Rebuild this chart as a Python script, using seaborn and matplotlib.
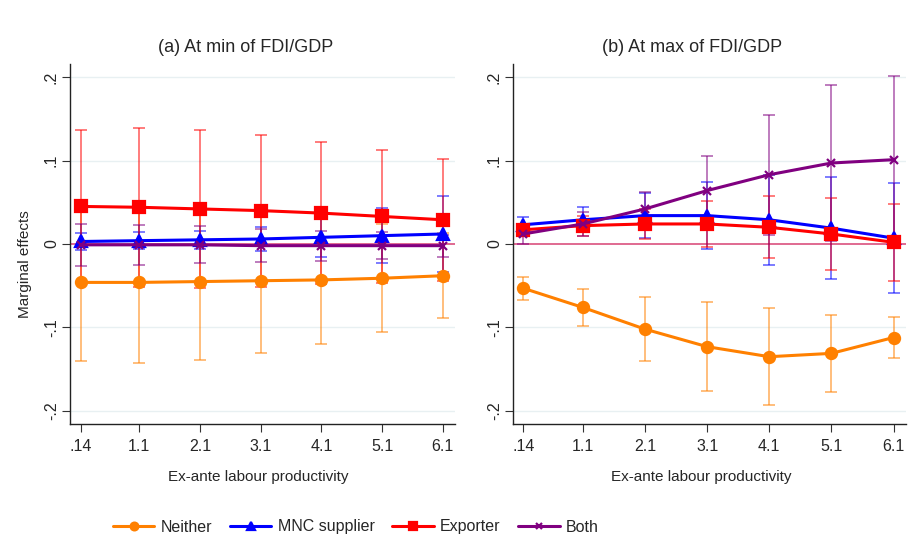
import numpy as np
import pandas as pd
import matplotlib
matplotlib.use("Agg")
import matplotlib.pyplot as plt
import seaborn as sns

# ---- data ----
x_vals = [0.14, 1.1, 2.1, 3.1, 4.1, 5.1, 6.1]
x_labels = [".14", "1.1", "2.1", "3.1", "4.1", "5.1", "6.1"]
groups = ["Neither", "MNC supplier", "Exporter", "Both"]

# panel (a): at min of FDI/GDP
a_neither = [-0.046, -0.046, -0.045, -0.044, -0.043, -0.041, -0.038]
a_neither_ci = [0.094, 0.096, 0.094, 0.087, 0.077, 0.065, 0.051]
a_mnc = [0.003, 0.004, 0.005, 0.006, 0.008, 0.010, 0.012]
a_mnc_ci = [0.010, 0.010, 0.011, 0.014, 0.023, 0.033, 0.046]
a_exp = [0.045, 0.044, 0.042, 0.040, 0.037, 0.033, 0.029]
a_exp_ci = [0.092, 0.095, 0.095, 0.091, 0.085, 0.080, 0.073]
a_both = [-0.001, -0.001, -0.001, -0.002, -0.002, -0.002, -0.002]
a_both_ci = [0.025, 0.024, 0.022, 0.020, 0.018, 0.016, 0.013]

# panel (b): at max of FDI/GDP
b_neither = [-0.053, -0.076, -0.102, -0.123, -0.135, -0.131, -0.112]
b_neither_ci = [0.014, 0.022, 0.038, 0.053, 0.058, 0.046, 0.024]
b_mnc = [0.023, 0.029, 0.034, 0.034, 0.029, 0.019, 0.007]
b_mnc_ci = [0.009, 0.015, 0.027, 0.040, 0.054, 0.061, 0.066]
b_exp = [0.017, 0.022, 0.024, 0.024, 0.020, 0.012, 0.002]
b_exp_ci = [0.006, 0.012, 0.018, 0.028, 0.037, 0.043, 0.046]
b_both = [0.012, 0.024, 0.042, 0.064, 0.083, 0.097, 0.101]
b_both_ci = [0.012, 0.014, 0.020, 0.041, 0.072, 0.094, 0.100]

y_ticks = [-0.2, -0.1, 0.0, 0.1, 0.2]
y_labels = ["-.2", "-.1", "0", ".1", ".2"]

colors = {"Neither": "#ff8000", "MNC supplier": "#0000ff",
          "Exporter": "#ff0000", "Both": "#800080"}
markers = {"Neither": "o", "MNC supplier": "^", "Exporter": "s", "Both": "x"}
msizes = {"Neither": 8, "MNC supplier": 8, "Exporter": 8, "Both": 6}


def make_df(vals, cis):
    rows = []
    for g, v, c in zip(groups, vals, cis):
        for xv, m, h in zip(x_vals, v, c):
            rows.append({"x": xv, "y": m, "ci": h, "group": g})
    return pd.DataFrame(rows)


df_a = make_df([a_neither, a_mnc, a_exp, a_both],
               [a_neither_ci, a_mnc_ci, a_exp_ci, a_both_ci])
df_b = make_df([b_neither, b_mnc, b_exp, b_both],
               [b_neither_ci, b_mnc_ci, b_exp_ci, b_both_ci])

sns.set_style("white")
FONT = ["Liberation Sans", "DejaVu Sans"]
plt.rcParams["font.family"] = FONT

fig = plt.figure(figsize=(9.2, 5.5), dpi=100)
ax_a = fig.add_axes([70 / 920, 1 - 424 / 550, 385 / 920, 360 / 550])
ax_b = fig.add_axes([513 / 920, 1 - 424 / 550, 393 / 920, 360 / 550])


def draw(ax, df, xlim):
    for ytk in [-0.2, -0.1, 0.1, 0.2]:
        ax.axhline(ytk, color="#e8f0f2", lw=1.0, zorder=0)
    ax.axhline(0, color="#d0205a", lw=1.1, alpha=0.85, zorder=1)
    for g in groups:
        d = df[df["group"] == g]
        ax.errorbar(d["x"], d["y"], yerr=d["ci"], fmt="none",
                    ecolor=colors[g], elinewidth=1.2, capsize=4,
                    capthick=1.2, alpha=0.6, zorder=2)
    for g in groups:
        d = df[df["group"] == g]
        sns.lineplot(data=d, x="x", y="y", ax=ax, color=colors[g],
                     marker=markers[g], markersize=msizes[g],
                     markeredgecolor=colors[g], markeredgewidth=1.6,
                     lw=2.2, label=g, legend=False, zorder=3)
    ax.set_xlim(*xlim)
    ax.set_ylim(-0.2156, 0.2156)
    ax.set_xticks(x_vals)
    ax.set_xticklabels(x_labels, fontsize=11.5)
    ax.set_yticks(y_ticks)
    ax.set_yticklabels(y_labels, fontsize=11.5, rotation=90, va="center")
    ax.tick_params(axis="both", direction="out", length=6, width=0.8,
                   color="#333333", bottom=True, left=True)
    ax.tick_params(axis="x", pad=5)
    ax.tick_params(axis="y", pad=2)
    for s in ["top", "right"]:
        ax.spines[s].set_visible(False)
    for s in ["left", "bottom"]:
        ax.spines[s].set_color("#222222")
        ax.spines[s].set_linewidth(1.0)
    ax.set_xlabel("")
    ax.set_ylabel("")


draw(ax_a, df_a, (-0.04, 6.3))
draw(ax_b, df_b, (-0.025, 6.3))

fig.text(246 / 920, 1 - 47 / 550, "(a) At min of FDI/GDP", ha="center",
         va="center", fontsize=13)
fig.text(692 / 920, 1 - 47 / 550, "(b) At max of FDI/GDP", ha="center",
         va="center", fontsize=13)
fig.text(258 / 920, 1 - 477 / 550, "Ex-ante labour productivity",
         ha="center", va="center", fontsize=11)
fig.text(701 / 920, 1 - 477 / 550, "Ex-ante labour productivity",
         ha="center", va="center", fontsize=11)
fig.text(25 / 920, 1 - 264 / 550, "Marginal effects", ha="center",
         va="center", rotation=90, fontsize=11)

handles, labels = ax_a.get_legend_handles_labels()
fig.legend(handles, labels, loc="center", bbox_to_anchor=(356 / 920, 1 - 527 / 550),
           ncol=4, frameon=False, fontsize=11.5, handlelength=2.6,
           columnspacing=1.1, handletextpad=0.4, markerscale=0.7)

fig.savefig("out.png", dpi=100)
